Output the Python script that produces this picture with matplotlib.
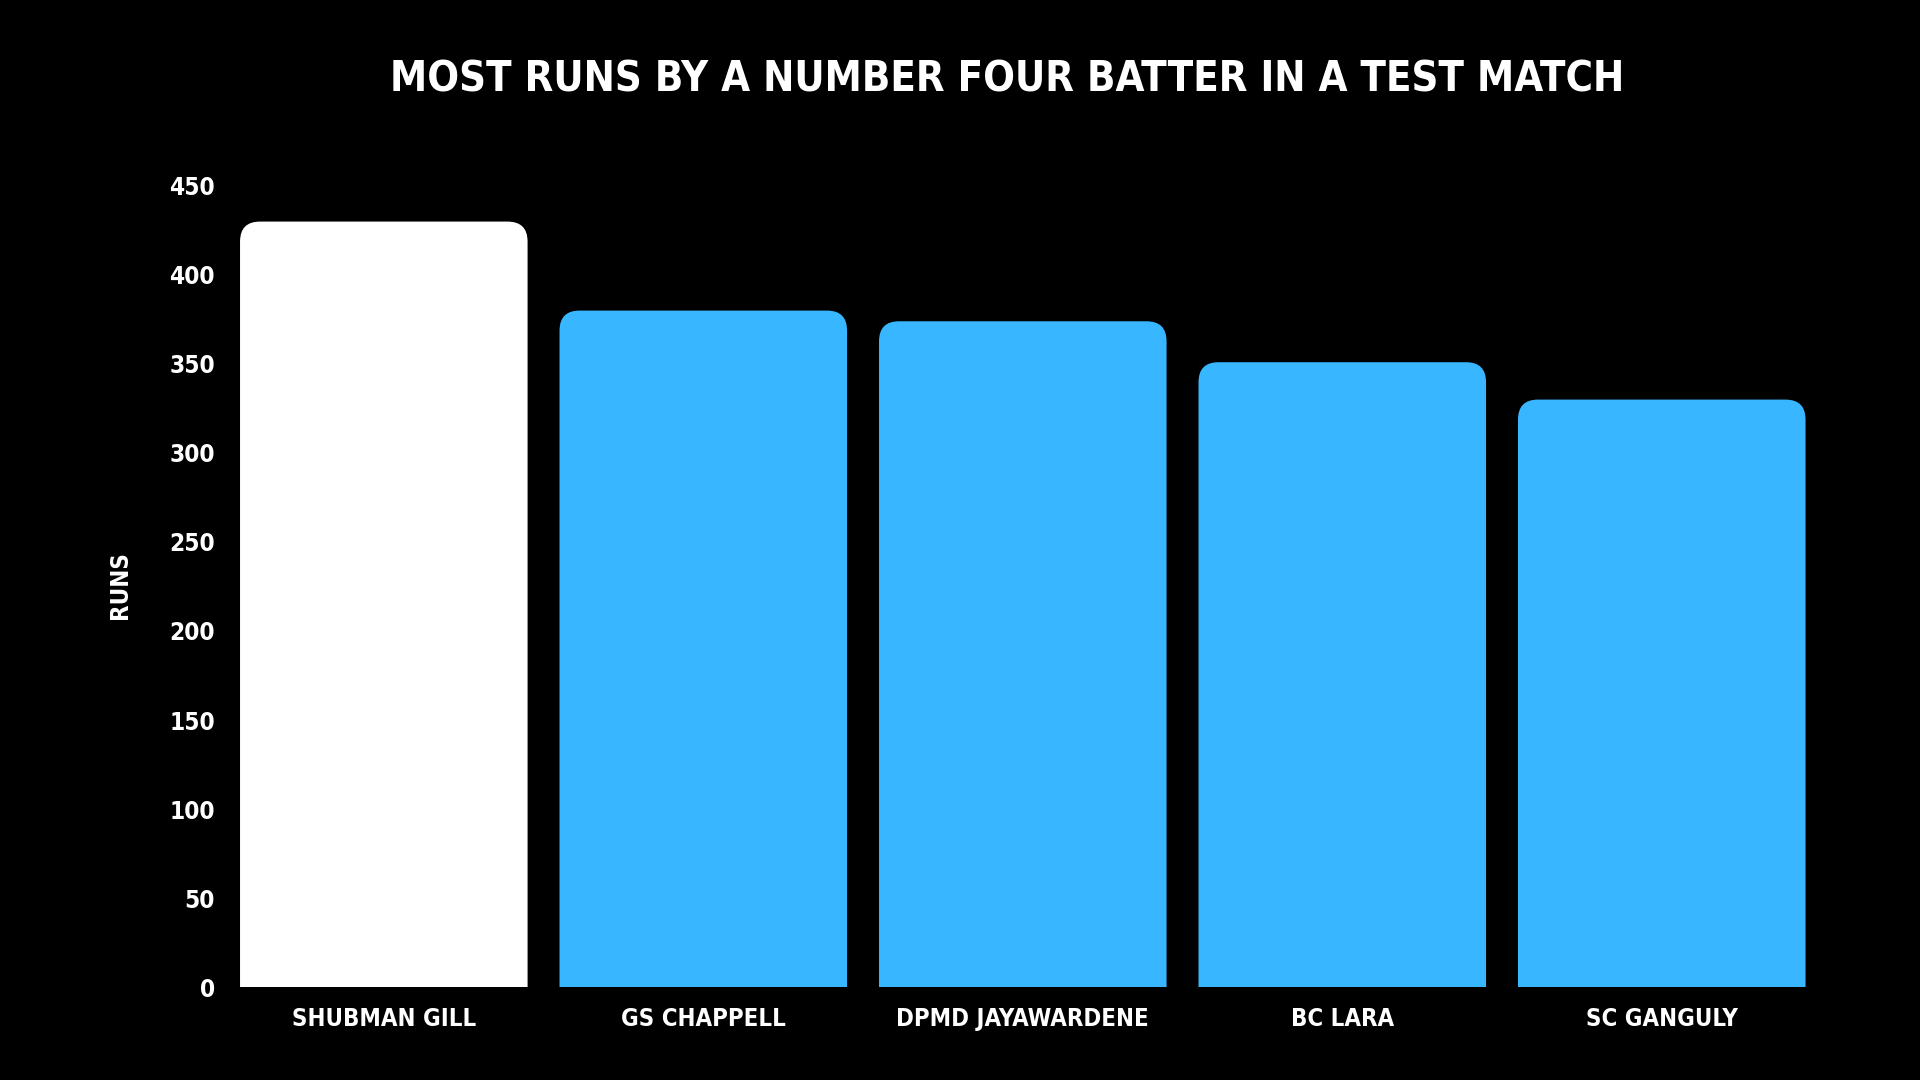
import matplotlib
matplotlib.use("Agg")
import matplotlib.pyplot as plt
from matplotlib.patches import FancyBboxPatch
from matplotlib import font_manager

players = ["SHUBMAN GILL", "GS CHAPPELL", "DPMD JAYAWARDENE", "BC LARA", "SC GANGULY"]
runs = [430, 380, 374, 351, 330]
bar_colors = ["#FFFFFF", "#38B6FF", "#38B6FF", "#38B6FF", "#38B6FF"]
yticks = [0, 50, 100, 150, 200, 250, 300, 350, 400, 450]

entries = font_manager.fontManager.ttflist
cond = [f for f in entries if ('ondensed' in f.fname or 'Narrow' in f.fname or 'ondensed' in f.name)
        and ('Bold' in f.fname or f.weight in ('bold', 700))]
fam, stretch = 'Roboto', 'normal'
if cond:
    fam = cond[0].name
    stretch = cond[0].stretch
plt.rcParams['font.family'] = [fam, 'DejaVu Sans']
plt.rcParams['font.weight'] = 'bold'
plt.rcParams['font.stretch'] = stretch

fig = plt.figure(figsize=(19.2, 10.8), dpi=100, facecolor="black")
ax = fig.add_axes([0.1167, 0.0861, 0.832, 0.7417], facecolor="black")

x = list(range(len(players)))
bars = ax.bar(x, runs, width=0.9, color=bar_colors)
ax.set_xlim(-0.5, 4.5)
ax.set_ylim(0, 450)
fig.canvas.draw()

bbox = ax.get_window_extent()
px_per_x = bbox.width / 5.0
px_per_y = bbox.height / 450.0
aspect = px_per_x / px_per_y
r_px = 20
for b in bars:
    b.set_visible(False)
    xb, w, h = b.get_x(), b.get_width(), b.get_height()
    p = FancyBboxPatch((xb, -40), w, h + 40,
                       boxstyle=f"round,pad=0,rounding_size={r_px/px_per_x}",
                       mutation_aspect=aspect, facecolor=b.get_facecolor(),
                       edgecolor="none", clip_on=True)
    ax.add_patch(p)

for s in ax.spines.values():
    s.set_visible(False)
ax.set_yticks(yticks)
ax.set_xticks(x)
ax.set_xticklabels(players)
ax.tick_params(axis='y', length=0, pad=6.5, labelcolor="white", labelsize=23)
ax.tick_params(axis='x', length=0, pad=14.5, labelcolor="white", labelsize=28)
ax.set_ylabel("RUNS", color="white", fontsize=23, fontweight='bold')
ax.yaxis.set_label_coords(-0.0576, 0.502)

title = fig.text(0.5245, 0.9264, "MOST RUNS BY A NUMBER FOUR BATTER IN A TEST MATCH",
                 color="white", fontsize=47, fontweight='bold', ha='center', va='center')

# fit text widths to the reference's measured widths
r = fig.canvas.get_renderer()
def fit(t, target_px, maxsize):
    w = t.get_window_extent(r).width
    t.set_fontsize(min(maxsize, t.get_fontsize() * target_px / w))

fit(title, 1234, 47)
xl = ax.get_xticklabels()
w0 = xl[0].get_window_extent(r).width
xs = min(28, 28 * 184 / w0)
ax.tick_params(axis='x', labelsize=xs)
yl = ax.get_yticklabels()
w1 = yl[-1].get_window_extent(r).width
ys = min(23, 23 * 46 / w1)
ax.tick_params(axis='y', labelsize=ys)
lab = ax.yaxis.label
wl = lab.get_window_extent(r).height
lab.set_fontsize(min(23, 23 * 68 / wl))

fig.savefig("out.png", dpi=100, facecolor="black")
